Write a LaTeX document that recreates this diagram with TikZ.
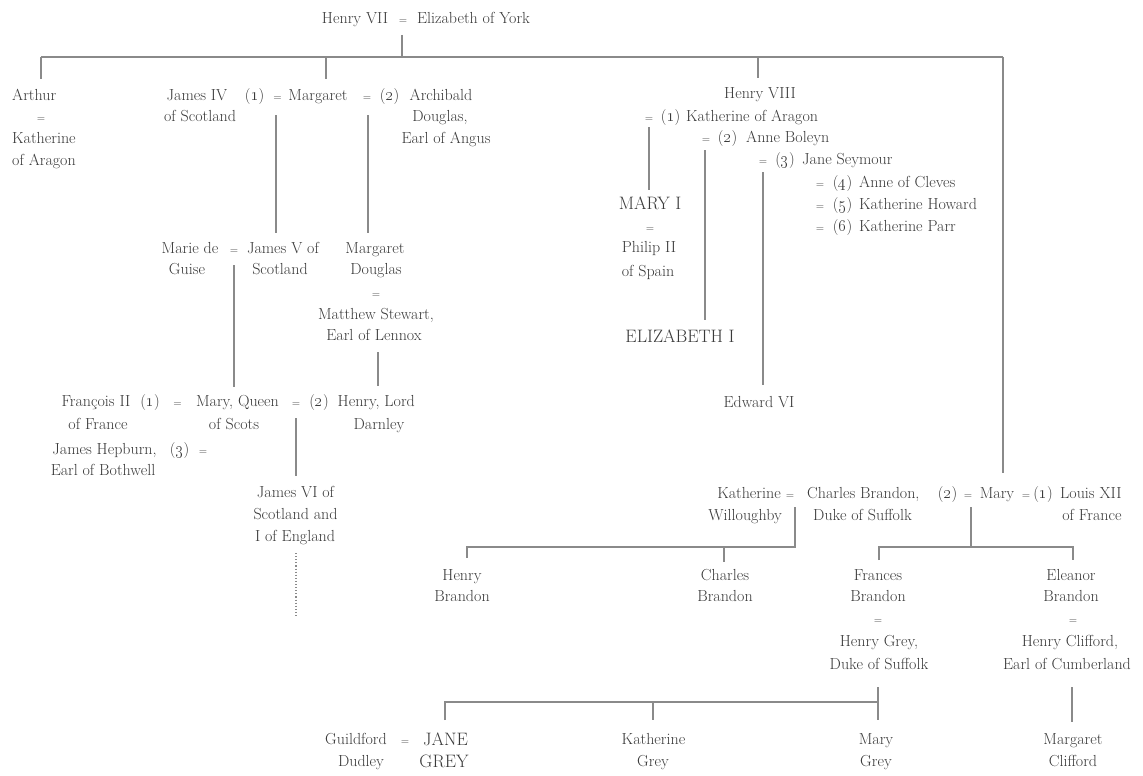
\documentclass[tikz,border=0pt]{standalone}
\definecolor{txt}{HTML}{3A3A3A}
\definecolor{lnc}{HTML}{8A8A8A}
\newcommand\tfnt{\fontsize{16}{19}\selectfont}
\newcommand\capfnt{\fontsize{18}{21}\selectfont}
\newcommand\osn[1]{(\oldstylenums{#1})}
\tikzset{
  t/.style={text=txt, font=\tfnt, inner sep=0pt, text height=10.5pt, text depth=3.5pt},
  tc/.style={t, font=\capfnt, text height=12pt},
  eq/.style={t, font=\fontsize{11}{11}\selectfont},
  ln/.style={draw=lnc, line width=1.3pt},
  dl/.style={draw=lnc, line width=1.1pt, dotted}
}
\begin{document}
\begin{tikzpicture}[x=1pt,y=-1pt]
\useasboundingbox[fill=white] (0,0) rectangle (1143,776);

% ---------- top couple
\node[t] (h7) at (355,20) {Henry VII};
\node[eq] (h7eq) at (403,20) {=};
\node[t] (eoy) at (473.5,20) {Elizabeth of York};

% ---------- Arthur
\node[t,anchor=west] (arthur) at (12,97) {Arthur};
\node[eq] (arthEq) at (41,118) {=};
\node[t,anchor=west] (koa1) at (12,140) {Katherine};
\node[t,anchor=west] (koa2) at (12,162) {of Aragon};

% ---------- Margaret row
\node[t] (j4a) at (197,97) {James IV};
\node[t] (j4n) at (254.5,97) {\osn{1}};
\node[t] (j4b) at (200,118) {of Scotland};
\node[eq] (mgEq1) at (277.5,97) {=};
\node[t] (marg) at (318,97) {Margaret};
\node[eq] (mgEq2) at (367,97) {=};
\node[t] (archN) at (389.5,97) {\osn{2}};
\node[t,anchor=west] (arch1) at (409.5,97) {Archibald};
\node[t] (arch2) at (440,118) {Douglas,};
\node[t] (arch3) at (446,140) {Earl of Angus};

% ---------- James V row
\node[t] (mdg1) at (190,250) {Marie de};
\node[t] (mdg2) at (187,271) {Guise};
\node[eq] (j5eq) at (234,250) {=};
\node[t] (j5a) at (283,250) {James V of};
\node[t] (j5b) at (280,271) {Scotland};
\node[t] (md1) at (375,250) {Margaret};
\node[t] (md2) at (376,271) {Douglas};
\node[eq] (mdEq) at (376,294) {=};
\node[t] (ms1) at (376,316) {Matthew Stewart,};
\node[t] (ms2) at (374,337) {Earl of Lennox};

% ---------- Mary Queen of Scots row
\node[t] (fr1) at (96,403) {François II};
\node[t] (frN) at (150,403) {\osn{1}};
\node[t] (fr2) at (98,426) {of France};
\node[eq] (qsEq1) at (177.5,403) {=};
\node[t] (qs1) at (237.5,403) {Mary, Queen};
\node[t] (qs2) at (234,426) {of Scots};
\node[eq] (qsEq2) at (296,403) {=};
\node[t] (dnN) at (319,403) {\osn{2}};
\node[t,anchor=west] (dn1) at (337.5,403) {Henry, Lord};
\node[t] (dn2) at (379,426) {Darnley};
\node[t] (jh1) at (104.5,451) {James Hepburn,};
\node[t] (jhN) at (179.5,451) {\osn{3}};
\node[eq] (jhEq) at (203,451) {=};
\node[t] (jh2) at (103,472) {Earl of Bothwell};

\node[t] (j6a) at (295.5,494) {James VI of};
\node[t] (j6b) at (295.5,516) {Scotland and};
\node[t] (j6c) at (295,538) {I of England};

% ---------- Henry VIII
\node[t] (h8) at (760,95) {Henry VIII};
\node[eq] (h8e1) at (649,118) {=};
\node[t] (h8n1) at (670.5,118) {\osn{1}};
\node[t,anchor=west] (w1) at (686,118) {Katherine of Aragon};
\node[eq] (h8e2) at (706,139) {=};
\node[t] (h8n2) at (727.5,139) {\osn{2}};
\node[t,anchor=west] (w2) at (746,139) {Anne Boleyn};
\node[eq] (h8e3) at (763,161) {=};
\node[t] (h8n3) at (785,161) {\osn{3}};
\node[t,anchor=west] (w3) at (802,161) {Jane Seymour};
\node[eq] (h8e4) at (820,184) {=};
\node[t] (h8n4) at (842.5,184) {\osn{4}};
\node[t,anchor=west] (w4) at (859,184) {Anne of Cleves};
\node[eq] (h8e5) at (820,206) {=};
\node[t] (h8n5) at (842.5,206) {\osn{5}};
\node[t,anchor=west] (w5) at (859,206) {Katherine Howard};
\node[eq] (h8e6) at (820,228) {=};
\node[t] (h8n6) at (842.5,228) {\osn{6}};
\node[t,anchor=west] (w6) at (859,228) {Katherine Parr};

\node[tc] (m1) at (650,205) {MARY I};
\node[eq] (m1eq) at (650,228) {=};
\node[t] (ph1) at (649,249) {Philip II};
\node[t] (ph2) at (648,273) {of Spain};
\node[tc] (eliz) at (680,338) {ELIZABETH I};
\node[t] (ed6) at (759,404) {Edward VI};

% ---------- Brandon row
\node[t,anchor=east] (kw1) at (781,495) {Katherine};
\node[t,anchor=east] (kw2) at (782,517) {Willoughby};
\node[eq] (cbEq1) at (790,495) {=};
\node[t,anchor=west] (cb1) at (807,495) {Charles Brandon,};
\node[t,anchor=west] (cb2) at (813,517) {Duke of Suffolk};
\node[t] (cbN) at (947.5,495) {\osn{2}};
\node[eq] (cbEq2) at (968,495) {=};
\node[t] (mt) at (997,495) {Mary};
\node[eq] (mtEq) at (1026,495) {=};
\node[t] (lxN) at (1043,495) {\osn{1}};
\node[t,anchor=west] (lx1) at (1060,495) {Louis XII};
\node[t,anchor=east] (lx2) at (lx1.east |- 0,517) {of France};

% ---------- Brandon children
\node[t] (hb1) at (462,577) {Henry};
\node[t] (hb2) at (462,598) {Brandon};
\node[t] (cc1) at (725,577) {Charles};
\node[t] (cc2) at (725,598) {Brandon};
\node[t] (fb1) at (878,577) {Frances};
\node[t] (fb2) at (878,598) {Brandon};
\node[eq] (fbEq) at (878,620) {=};
\node[t] (hg1) at (879,643) {Henry Grey,};
\node[t] (hg2) at (879,666) {Duke of Suffolk};
\node[t] (eb1) at (1071,577) {Eleanor};
\node[t] (eb2) at (1071,598) {Brandon};
\node[eq] (ebEq) at (1073,620) {=};
\node[t] (hc1) at (1070,643) {Henry Clifford,};
\node[t] (hc2) at (1067,666) {Earl of Cumberland};

% ---------- bottom row
\node[t] (gd1) at (356,741) {Guildford};
\node[t] (gd2) at (361,763) {Dudley};
\node[eq] (jgEq) at (405,741) {=};
\node[tc] (jg1) at (445.5,741) {JANE};
\node[tc] (jg2) at (444,763) {GREY};
\node[t] (kg1) at (653.5,741) {Katherine};
\node[t] (kg2) at (653,763) {Grey};
\node[t] (mg1) at (876,741) {Mary};
\node[t] (mg2) at (876,763) {Grey};
\node[t] (mc1) at (1073,741) {Margaret};
\node[t] (mc2) at (1073,763) {Clifford};

% ---------- connector points
\coordinate (topDrop) at (402,35);
\coordinate (busL) at (41,57);
\coordinate (busM) at (326,57);
\coordinate (busH) at (758,57);
\coordinate (busR) at (1003,57);
\coordinate (mgA) at (276,115);
\coordinate (mgB) at (368,115);
\coordinate (j5D) at (234,265);
\coordinate (lenD) at (378,352);
\coordinate (qsD) at (296,418);
\coordinate (j6D) at (296,553);
\coordinate (h8A) at (649,127);
\coordinate (h8B) at (705,150);
\coordinate (h8C) at (763,172);
\coordinate (kwD) at (795,507);
\coordinate (kwBus) at (795,547);
\coordinate (hbT) at (467,547);
\coordinate (ccT) at (724,547);
\coordinate (mtD) at (971,507);
\coordinate (fbT) at (879,547);
\coordinate (ebT) at (1073,547);
\coordinate (hgD) at (878,687);
\coordinate (gBus) at (878,702);
\coordinate (jgT) at (445,702);
\coordinate (kgT) at (653,702);
\coordinate (hcD) at (1072,687);

% ---------- connectors
\draw[ln] (topDrop) -- (topDrop |- busL);
\draw[ln] (busL) -- (busR);
\draw[ln] (busL) -- ++(0,22);
\draw[ln] (busM) -- ++(0,22);
\draw[ln] (busH) -- ++(0,21);
\draw[ln] (busR) -- ++(0,416);
\draw[ln] (mgA) -- ++(0,118);
\draw[ln] (mgB) -- ++(0,118);
\draw[ln] (j5D) -- ++(0,122);
\draw[ln] (lenD) -- ++(0,34);
\draw[ln] (qsD) -- ++(0,58);
\draw[dl] (j6D) -- ++(0,65);
\draw[ln] (h8A) -- ++(0,63);
\draw[ln] (h8B) -- ++(0,170);
\draw[ln] (h8C) -- ++(0,213);
\draw[ln] (kwD) -- (kwBus) -- (hbT) -- ++(0,11);
\draw[ln] (ccT) -- ++(0,15);
\draw[ln] (mtD) -- (mtD |- fbT);
\draw[ln] ([yshift=-13pt]fbT) -- (fbT) -- (ebT) -- ++(0,13);
\draw[ln] (hgD) -- ++(0,33);
\draw[ln] ([yshift=-18pt]jgT) -- (jgT) -- (gBus);
\draw[ln] (kgT) -- ++(0,18);
\draw[ln] (hcD) -- ++(0,35);
\end{tikzpicture}
\end{document}
